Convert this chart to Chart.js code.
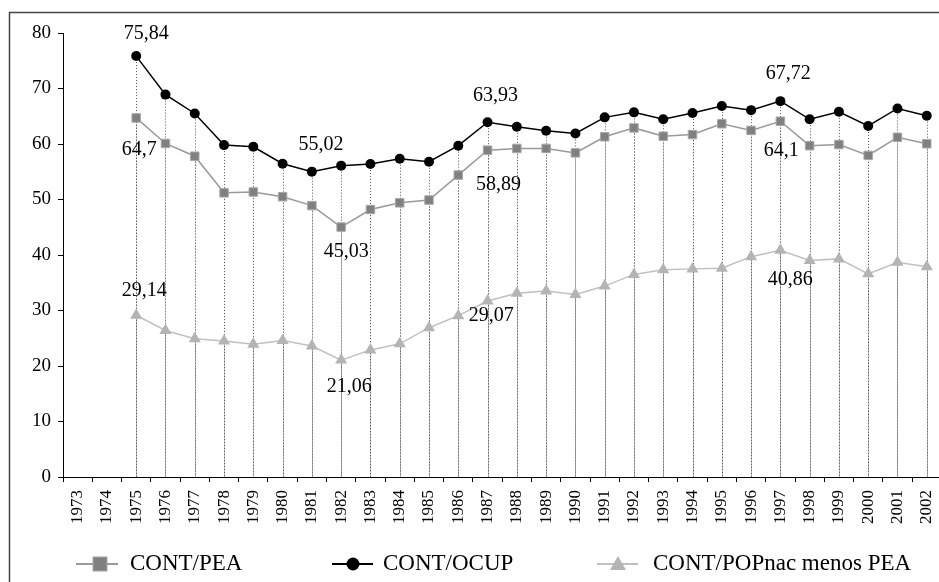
<!DOCTYPE html>
<html>
<head>
<meta charset="utf-8">
<script src="https://cdn.jsdelivr.net/npm/chart.js@4/dist/chart.umd.min.js"></script>
<style>
  html, body { margin: 0; padding: 0; background: #fff; overflow: hidden; }
  #wrap { position: absolute; left: 0; top: 0; width: 960px; height: 582px; }
</style>
</head>
<body>
<div id="wrap"><canvas id="c" width="960" height="582"></canvas></div>
<script>
const years = ['1973','1974','1975','1976','1977','1978','1979','1980','1981','1982','1983','1984','1985','1986','1987','1988','1989','1990','1991','1992','1993','1994','1995','1996','1997','1998','1999','2000','2001','2002'];
const contPEA = [null,null,64.7,60.1,57.8,51.2,51.35,50.5,48.9,45.03,48.2,49.4,49.9,54.4,58.89,59.2,59.2,58.4,61.3,62.9,61.4,61.7,63.65,62.45,64.1,59.7,59.9,57.95,61.2,60.05];
const contOCUP = [null,null,75.84,68.9,65.5,59.8,59.5,56.45,55.02,56.1,56.4,57.35,56.8,59.7,63.93,63.1,62.4,61.9,64.8,65.7,64.45,65.6,66.85,66.1,67.72,64.45,65.8,63.25,66.4,65.1];
const contPOP = [null,null,29.14,26.4,24.9,24.5,23.9,24.6,23.6,21.06,22.9,24.0,26.9,29.07,31.7,33.1,33.5,32.9,34.4,36.5,37.35,37.5,37.6,39.7,40.86,39.0,39.3,36.6,38.7,37.9];
const seriesNames = ['CONT/PEA','CONT/OCUP','CONT/POPnac menos PEA'];
const yTicks = [0,10,20,30,40,50,60,70,80];

// annotated values: dataset index, year
const annotated = [
  {ds:1, year:'1975', dx:10, dy:-22},
  {ds:0, year:'1975', dx:3, dy:32},
  {ds:1, year:'1981', dx:9, dy:-27},
  {ds:0, year:'1982', dx:5, dy:25},
  {ds:1, year:'1987', dx:8, dy:-26},
  {ds:0, year:'1987', dx:11, dy:35},
  {ds:1, year:'1997', dx:8, dy:-27},
  {ds:0, year:'1997', dx:1, dy:30},
  {ds:2, year:'1975', dx:8, dy:-25},
  {ds:2, year:'1982', dx:8, dy:27},
  {ds:2, year:'1986', dx:33, dy:0},
  {ds:2, year:'1997', dx:10, dy:30}
];

const SERIF = '"Liberation Serif", "Times New Roman", serif';
const dropStyles = [
  {color:'#9a9a9a', dash:[1,2]},
  {color:'#555555', dash:[1,2]},
  {color:'#c4c4c4', dash:[]}
];

const framePlugin = {
  id:'frame',
  beforeDraw(chart){
    const ctx = chart.ctx;
    ctx.save();
    ctx.fillStyle = '#fff';
    ctx.fillRect(0,0,chart.width,chart.height);
    ctx.strokeStyle = '#444';
    ctx.lineWidth = 1.5;
    ctx.strokeRect(9.5, 12.5, 1200, 1200);
    ctx.restore();
  }
};

const dropPlugin = {
  id:'drops',
  beforeDatasetsDraw(chart){
    const ctx = chart.ctx;
    const bottom = chart.chartArea.bottom;
    ctx.save();
    [2,0,1].forEach(i => {
      const meta = chart.getDatasetMeta(i);
      ctx.strokeStyle = dropStyles[i].color;
      ctx.setLineDash(dropStyles[i].dash);
      ctx.lineWidth = 1;
      meta.data.forEach((p, k) => {
        if (chart.data.datasets[i].data[k] == null) return;
        const x = Math.round(p.x) + 0.5;
        ctx.beginPath();
        ctx.moveTo(x, p.y);
        ctx.lineTo(x, bottom);
        ctx.stroke();
      });
    });
    ctx.restore();
  }
};

const labelPlugin = {
  id:'vlabels',
  afterDatasetsDraw(chart){
    const ctx = chart.ctx;
    ctx.save();
    ctx.font = '20px ' + SERIF;
    ctx.fillStyle = '#000';
    ctx.textAlign = 'center';
    ctx.textBaseline = 'middle';
    annotated.forEach(a => {
      const k = years.indexOf(a.year);
      const v = chart.data.datasets[a.ds].data[k];
      const p = chart.getDatasetMeta(a.ds).data[k];
      ctx.fillText(String(v).replace('.', ','), p.x + a.dx, p.y + a.dy);
    });
    ctx.restore();
  }
};

const legendPlugin = {
  id:'customLegend',
  afterDraw(chart){
    const ctx = chart.ctx;
    const y = 564;
    const items = [
      {x0:76, x1:118, mx:100, tx:130, line:'#999999', draw:(x)=>{ ctx.fillStyle='#808080'; ctx.strokeStyle='#a8a8a8'; ctx.lineWidth=1; ctx.fillRect(x-7,y-7,14,14); ctx.strokeRect(x-7,y-7,14,14);} },
      {x0:332, x1:373, mx:353, tx:383, line:'#000000', draw:(x)=>{ ctx.fillStyle='#000'; ctx.beginPath(); ctx.arc(x,y,6.5,0,Math.PI*2); ctx.fill(); } },
      {x0:597, x1:638, mx:618, tx:653, line:'#c0c0c0', draw:(x)=>{ ctx.fillStyle='#b4b4b4'; ctx.beginPath(); ctx.moveTo(x, y-8); ctx.lineTo(x+8, y+6); ctx.lineTo(x-8, y+6); ctx.closePath(); ctx.fill(); } }
    ];
    ctx.save();
    items.forEach((it, i) => {
      ctx.strokeStyle = it.line;
      ctx.lineWidth = 2;
      ctx.beginPath(); ctx.moveTo(it.x0, y); ctx.lineTo(it.x1, y); ctx.stroke();
      it.draw(it.mx);
      ctx.fillStyle = '#000';
      ctx.font = '23px ' + SERIF;
      ctx.textAlign = 'left';
      ctx.textBaseline = 'middle';
      ctx.fillText(seriesNames[i], it.tx, y);
    });
    ctx.restore();
  }
};

new Chart(document.getElementById('c'), {
  type:'line',
  data:{
    labels: years,
    datasets:[
      {label:seriesNames[0], data:contPEA, borderColor:'#999999', borderWidth:1.5, pointStyle:'rect', pointRadius:6, pointBackgroundColor:'#808080', pointBorderColor:'#a8a8a8', pointBorderWidth:1, tension:0, spanGaps:false},
      {label:seriesNames[1], data:contOCUP, borderColor:'#000000', borderWidth:1.5, pointStyle:'circle', pointRadius:5, pointBackgroundColor:'#000', pointBorderColor:'#000', pointBorderWidth:0, tension:0},
      {label:seriesNames[2], data:contPOP, borderColor:'#c0c0c0', borderWidth:1.5, pointStyle:'triangle', pointRadius:7, pointBackgroundColor:'#b4b4b4', pointBorderColor:'#b4b4b4', pointBorderWidth:0, tension:0}
    ]
  },
  options:{
    responsive:false,
    animation:false,
    devicePixelRatio:1,
    layout:{padding:{top:33, right:18.6, left:0, bottom:0}},
    plugins:{legend:{display:false}, tooltip:{enabled:false}},
    scales:{
      x:{
        type:'category',
        offset:true,
        afterFit(scale){ scale.height = 105; },
        grid:{offset:true, drawOnChartArea:false, drawTicks:true, tickLength:5, color:'#000', lineWidth:1},
        border:{display:true, color:'#000', width:1},
        ticks:{color:'#000', font:{family:SERIF, size:17}, minRotation:90, maxRotation:90, autoSkip:false, padding:8}
      },
      y:{
        min:0, max:80,
        afterFit(scale){ scale.width = 63; },
        afterBuildTicks(scale){ scale.ticks = yTicks.map(v => ({value:v})); },
        grid:{drawOnChartArea:false, drawTicks:true, tickLength:5, color:'#000', lineWidth:1},
        border:{display:true, color:'#000', width:1},
        ticks:{color:'#000', font:{family:SERIF, size:19}, padding:7}
      }
    }
  },
  plugins:[framePlugin, dropPlugin, labelPlugin, legendPlugin]
});
</script>
</body>
</html>
